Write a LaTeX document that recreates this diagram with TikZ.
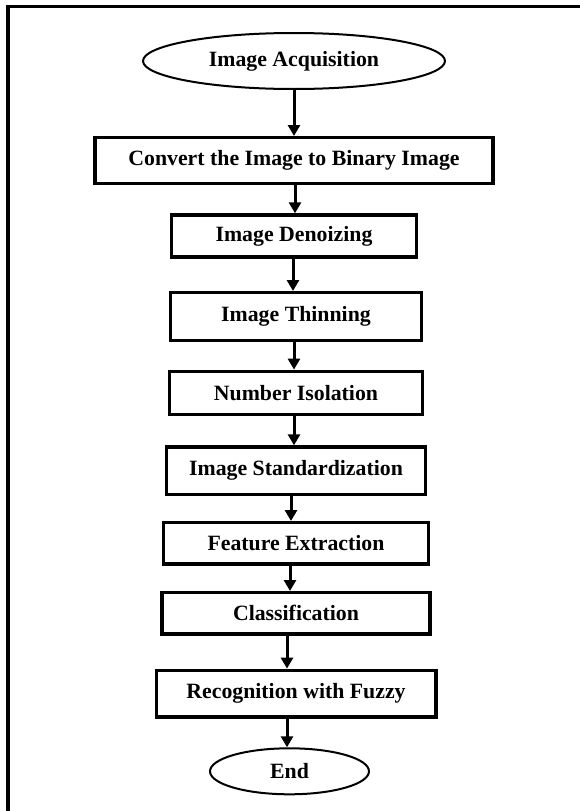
\documentclass[tikz,border=0pt]{standalone}
\usepackage{fontspec}
\setmainfont{Liberation Serif}
\usetikzlibrary{arrows.meta,positioning,shapes.geometric}

\begin{document}
\begin{tikzpicture}[x=1pt,y=-1pt,
  every node/.style={inner sep=0pt,font=\fontsize{21.8}{26}\selectfont\bfseries},
  stepbox/.style={draw,line width=3.3pt},
  terminal/.style={draw,ellipse,line width=2pt},
  flow/.style={draw,line width=3pt,-{Triangle[width=12pt,length=11pt]}}]
\useasboundingbox (0,0) rectangle (580,811);
\draw[line width=3.5pt] (8,811) |- (580,6.5);
\node[terminal,minimum width=302pt,minimum height=56pt] (acq) at (294,61) {Image Acquisition};
\node[stepbox,below=46pt of acq,minimum width=398pt,minimum height=46pt] (binary) {Convert the Image to Binary Image};
\node[stepbox,below=28pt of binary,minimum width=245pt,minimum height=42pt] (denoise) {Image Denoizing};
\node[stepbox,below=32.4pt of denoise,xshift=2pt,minimum width=251pt,minimum height=48pt] (thin) {Image Thinning};
\node[stepbox,below=27.3pt of thin,minimum width=253pt,minimum height=43.4pt] (isolate) {Number Isolation};
\node[stepbox,below=29pt of isolate,minimum width=259.5pt,minimum height=47.7pt] (standard) {Image Standardization};
\node[stepbox,below=24.7pt of standard,minimum width=264.4pt,minimum height=41.3pt] (feature) {Feature Extraction};
\node[stepbox,below=25.4pt of feature,minimum width=268.2pt,minimum height=41.3pt] (classify) {Classification};
\node[stepbox,below=33pt of classify,minimum width=279.7pt,minimum height=46.7pt] (recog) {Recognition with Fuzzy};
\node[terminal,below=28.7pt of recog,xshift=-6.5pt,minimum width=159pt,minimum height=46pt] (end) {End};
% arrows between the steps
\foreach \a/\b/\s in {acq/binary/0,binary/denoise/1,denoise/thin/-1,thin/isolate/-2,
    isolate/standard/-2,standard/feature/-5,feature/classify/-6,classify/recog/-9,recog/end/-9}
  \draw[flow] ([xshift=\s pt]\a.south) -- ([xshift=\s pt]\a.south |- \b.north);
\end{tikzpicture}
\end{document}
